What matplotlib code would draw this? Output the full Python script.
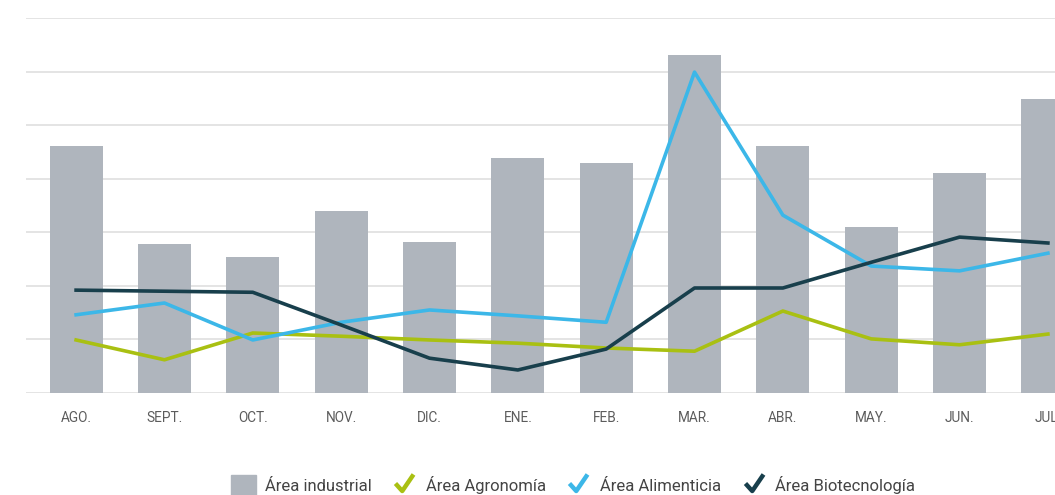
import matplotlib
matplotlib.use('Agg')
import matplotlib.pyplot as plt
from matplotlib import font_manager
from matplotlib.path import Path
from matplotlib.lines import Line2D
from matplotlib.patches import Patch
import numpy as np

# datos
meses = ['AGO.', 'SEPT.', 'OCT.', 'NOV.', 'DIC.', 'ENE.', 'FEB.', 'MAR.', 'ABR.', 'MAY.', 'JUN.', 'JUL.']
industrial = [4.61, 2.78, 2.54, 3.40, 2.82, 4.38, 4.29, 6.31, 4.61, 3.10, 4.10, 5.49]
agronomia = [0.99, 0.62, 1.12, 1.06, 0.99, 0.93, 0.84, 0.78, 1.53, 1.01, 0.90, 1.10]
alimenticia = [1.46, 1.68, 0.99, 1.32, 1.55, 1.44, 1.32, 5.99, 3.32, 2.37, 2.28, 2.61]
biotecnologia = [1.92, 1.90, 1.88, 1.27, 0.65, 0.43, 0.82, 1.96, 1.96, 2.44, 2.91, 2.80]

# fuente condensada si existe
nombres = {f.name for f in font_manager.fontManager.ttflist}
fuente = 'Liberation Sans Narrow' if 'Liberation Sans Narrow' in nombres else 'Roboto'
plt.rcParams['font.family'] = [fuente, 'DejaVu Sans']

c_bar = '#afb5bd'
c_agro = '#a9c012'
c_ali = '#3cb7e8'
c_bio = '#183f4c'

fig = plt.figure(figsize=(10.55, 4.95), dpi=100)
# el eje se sale por la derecha como en la captura
ax = fig.add_axes([26 / 1055, 102 / 495, 1072 / 1055, 375 / 495])

x = np.arange(len(meses))
ax.bar(x, industrial, width=0.6, color=c_bar, zorder=2)
ax.plot(x, agronomia, color=c_agro, lw=2.6, zorder=3)
ax.plot(x, alimenticia, color=c_ali, lw=2.6, zorder=3)
ax.plot(x, biotecnologia, color=c_bio, lw=2.6, zorder=3)

ax.set_xlim(-0.567, 11.567)
ax.set_ylim(0, 7)
ax.set_yticks(range(0, 8))
ax.set_yticklabels([])
ax.tick_params(axis='y', length=0)
ax.grid(axis='y', color='#e2e2e2', lw=1.3, zorder=0)
ax.set_axisbelow(True)
for s in ax.spines.values():
    s.set_visible(False)
ax.set_xticks(x)
ax.set_xticklabels(meses, fontsize=9.8, color='#5c5c5c')
ax.tick_params(axis='x', length=0, pad=13)

# leyenda con marcas tipo check
check = Path([(-0.6, 0.0), (-0.15, -0.5), (0.6, 0.6)],
             [Path.MOVETO, Path.LINETO, Path.LINETO])
handles = [Patch(color=c_bar)]
for c in [c_agro, c_ali, c_bio]:
    handles.append(Line2D([], [], linestyle='none', marker=check, markersize=13,
                          markerfacecolor='none', markeredgecolor=c, markeredgewidth=3.2))
labels = ['Área industrial', 'Área Agronomía', 'Área Alimenticia', 'Área Biotecnología']
fig.legend(handles, labels, loc='center', bbox_to_anchor=(573 / 1055, 10 / 495), ncol=4,
           frameon=False, fontsize=12, labelcolor='#444444', handlelength=1.5,
           handleheight=1.4, handletextpad=0.55, columnspacing=1.2)

fig.savefig('out.png', dpi=100)
